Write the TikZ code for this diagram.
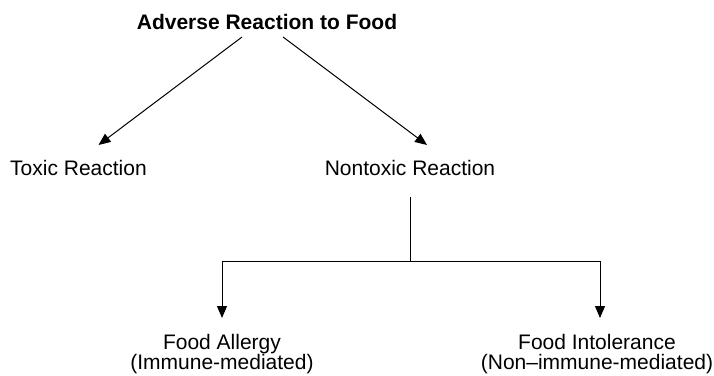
\documentclass[tikz,border=0pt]{standalone}
\usepackage{fontspec}
\setmainfont{Liberation Sans}
\usepackage{tikz}
\usetikzlibrary{arrows.meta,positioning}

\begin{document}
\begin{tikzpicture}[x=1pt, y=1pt, line width=1pt,
  every node/.style={font=\fontsize{21}{20}\selectfont, inner sep=0pt, anchor=base, align=center},
  arr/.style={-{Triangle[length=12pt,width=10pt]}}]
  \useasboundingbox (0,0) rectangle (714,375);
  \node[font=\fontsize{21}{20}\selectfont\bfseries] (adverse) at (267,345) {Adverse Reaction to Food};
  \node (toxic) at (78.5,199.5) {Toxic Reaction};
  \node (nontoxic) at (410,199.5) {Nontoxic Reaction};
  \node (allergy) at (222,5.5) {Food Allergy\\(Immune-mediated)};
  \node (intol) at (597,5.5) {Food Intolerance\\(Non--immune-mediated)};
  \coordinate (fork) at (410,114);
  \draw[arr] ([shift={(-25,-7)}]adverse.base) -- ([shift={(20,30.5)}]toxic.base);
  \draw[arr] ([shift={(16,-7)}]adverse.base) -- ([shift={(17,30.5)}]nontoxic.base);
  \draw ([yshift=-21.5pt]nontoxic.base) -- (fork);
  \draw[arr] (fork) -| ([yshift=51.5pt]allergy.base);
  \draw[arr] (fork) -| ([shift={(3,51.5)}]intol.base);
\end{tikzpicture}
\end{document}
